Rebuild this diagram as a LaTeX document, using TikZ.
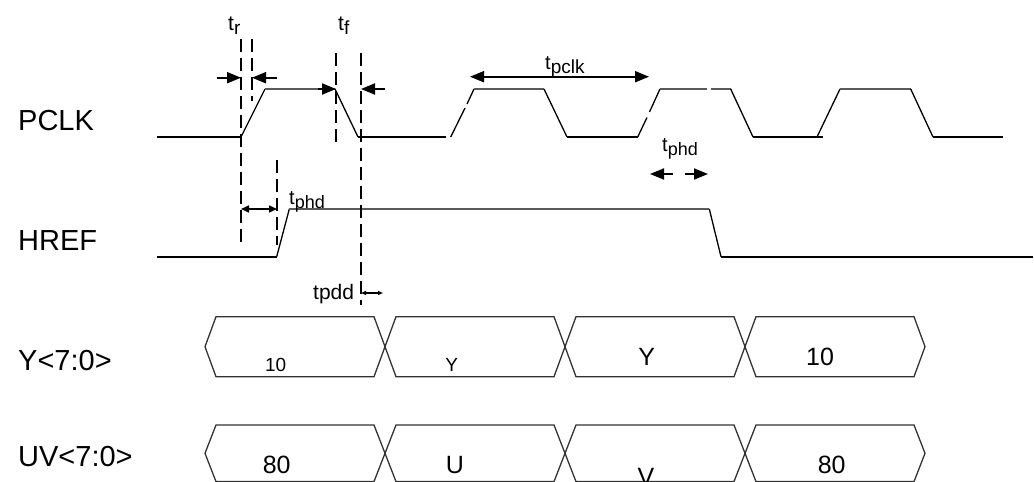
\documentclass[tikz,border=0pt]{standalone}
\usepackage{fontspec}
\setmainfont{Liberation Sans}
\usetikzlibrary{arrows.meta}
\definecolor{hig}{HTML}{5A5A5A}
\definecolor{busc}{HTML}{333333}
\newcommand{\fs}[1]{\fontsize{#1}{#1}\selectfont}
\newcommand{\tlab}[3]{\fs{#1}t\raisebox{-4pt}{\fs{#2}#3}}
\begin{document}
\begin{tikzpicture}[x=1pt,y=-1pt,
  lo/.style={line width=2pt,black},
  hi/.style={line width=2pt,hig},
  edg/.style={line width=1.3pt,black},
  bus/.style={line width=1.3pt,busc,line join=miter},
  vdash/.style={line width=2.2pt,dash pattern=on 13pt off 6pt},
  bigarr/.style={line width=2pt,-{Triangle[length=14pt,width=11pt]}},
  midarr/.style={line width=1.6pt,{Triangle[length=8pt,width=7pt]}-{Triangle[length=8pt,width=7pt]}},
  smarr/.style={line width=1.2pt,{Triangle[length=5pt,width=4pt]}-{Triangle[length=5pt,width=4pt]}},
  sig/.style={anchor=base west,inner sep=0pt,font=\fs{29}},
  lab/.style={anchor=base west,inner sep=0pt},
  val/.style={anchor=base,inner sep=0pt}]
\useasboundingbox (0,0) rectangle (1034,482);

% signal names
\node[sig] (nPCLK) at (18,130) {PCLK};
\node[sig] (nHREF) at (18,250) {HREF};
\node[sig] (nY) at (18,370) {Y<7:0>};
\node[sig] (nUV) at (18,466.7) {UV<7:0>};

% PCLK waveform
\draw[lo] (157,137) -- (241,137);
\draw[edg] (241,137) -- (265,89);
\draw[hi] (265,89) -- (335,89);
\draw[edg] (335,89) -- (358,137);
\draw[lo] (358,137) -- (445.7,137);
\draw[edg] (450.7,137) -- (465,108);
\draw[edg] (467,104) -- (474,89);
\draw[hi] (474,89) -- (544,89);
\draw[edg] (544,89) -- (567,137);
\draw[lo] (567,137) -- (637.7,137);
\draw[edg] (637.7,137) -- (647,117.5);
\draw[edg] (649.5,112) -- (660,89);
\draw[hi] (660,89) -- (707,89);
\draw[hi] (711,89) -- (730.7,89);
\draw[edg] (730.7,89) -- (753,137);
\draw[lo] (753,137) -- (823,137);
\draw[edg] (817,137) -- (840,89);
\draw[hi] (840,89) -- (910.7,89);
\draw[edg] (910.7,89) -- (933,137);
\draw[lo] (933,137) -- (1003,137);

% HREF waveform
\draw[lo] (157,256.7) -- (276.7,256.7);
\draw[edg] (276.7,256.7) -- (289.3,209);
\draw[hi] (289.3,209) -- (709.3,209);
\draw[edg] (709.3,209) -- (721,256.7);
\draw[lo] (721,256.7) -- (1033,256.7);

% dashed reference lines
\coordinate (d1t) at (241,39);  \coordinate (d1b) at (241,245);
\coordinate (d2t) at (252,39);  \coordinate (d2b) at (252,101);
\coordinate (d3t) at (277,160); \coordinate (d3b) at (277,245);
\coordinate (d4t) at (336,53);  \coordinate (d4b) at (336,148);
\coordinate (d5t) at (361,53);  \coordinate (d5b) at (361,305);
\draw[vdash] (d1t) -- (d1b);
\draw[vdash] (d2t) -- (d2b);
\draw[vdash] (d3t) -- (d3b);
\draw[vdash] (d4t) -- (d4b);
\draw[vdash] (d5t) -- (d5b);

% timing arrows
\coordinate (tra) at (217,77.7); \coordinate (trb) at (241,77.7);
\coordinate (trc) at (277,77.7); \coordinate (trd) at (252,77.7);
\draw[bigarr] (tra) -- (trb);
\draw[bigarr] (trc) -- (trd);
\coordinate (tfa) at (318,89); \coordinate (tfb) at (336,89);
\coordinate (tfc) at (385,89); \coordinate (tfd) at (361,89);
\draw[bigarr] (tfa) -- (tfb);
\draw[bigarr] (tfc) -- (tfd);
\coordinate (pca) at (470,76.7); \coordinate (pcb) at (649,76.7);
\draw[line width=2pt,{Triangle[length=14pt,width=11pt]}-{Triangle[length=14pt,width=11pt]}] (pca) -- (pcb);
\coordinate (pha) at (673,174); \coordinate (phb) at (650,174);
\coordinate (phc) at (685,174); \coordinate (phd) at (708,174);
\draw[bigarr] (pha) -- (phb);
\draw[bigarr] (phc) -- (phd);
\coordinate (hra) at (241,209); \coordinate (hrb) at (277,209);
\draw[midarr] (hra) -- (hrb);
\coordinate (pda) at (361,293); \coordinate (pdb) at (383,293);
\draw[smarr] (pda) -- (pdb);

% timing labels
\node[lab] (ltr) at (228,30) {\tlab{21}{19}{r}};
\node[lab] (ltf) at (338,30) {\tlab{21}{19}{f}};
\node[lab] (ltpclk) at (545,69.3) {\tlab{20}{19}{pclk}};
\node[lab] (ltphd1) at (289,204) {\tlab{20}{18}{phd}};
\node[lab] (ltphd2) at (662,151.7) {\tlab{20}{18}{phd}};
\node[lab,font=\fs{21}] (ltpdd) at (313,299) {tpdd};

% buses
\foreach \a/\b in {205/385,385/565,565/745,745/925}{
  \draw[bus] (\a,346.7) -- (\a+11,316.7) -- (\b-11,316.7) -- (\b,346.7) -- (\b-11,376.7) -- (\a+11,376.7) -- cycle;
  \draw[bus] (\a,453.3) -- (\a+11,425) -- (\b-11,425) -- (\b,453.3) -- (\b-11,481.6) -- (\a+11,481.6) -- cycle;
}
\node[val,font=\fs{19}] (y1) at (275.7,371) {10};
\node[val,font=\fs{19}] (y2) at (451.7,371) {Y};
\node[val,font=\fs{25}] (y3) at (646.7,365) {Y};
\node[val,font=\fs{25}] (y4) at (820,365) {10};
\node[val,font=\fs{25}] (u1) at (276.7,473) {80};
\node[val,font=\fs{25}] (u2) at (455,473) {U};
\node[val,font=\fs{25}] (u3) at (646,485) {V};
\node[val,font=\fs{25}] (u4) at (831.7,473) {80};
\end{tikzpicture}
\end{document}
